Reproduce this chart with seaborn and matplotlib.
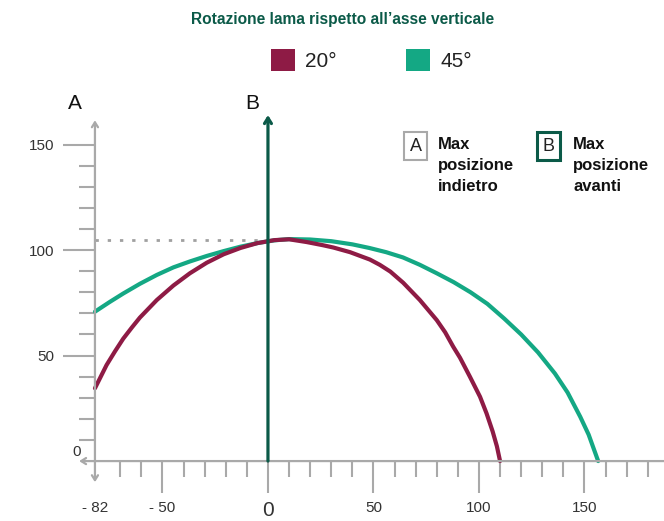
import matplotlib
matplotlib.use("Agg")
import matplotlib.pyplot as plt
import seaborn as sns
import pandas as pd
from matplotlib.patches import Patch

# --- data ---
x_20 = [-82, -79, -76.5, -72.5, -68.6, -64.5, -60.7, -52.7, -44.8, -37, -29, -21, -13, -5,
        3, 10, 18.3, 26, 31, 38.9, 48.3, 53, 58, 64.1, 72, 80, 84, 87.8, 91, 95.7,
        100.5, 103.6, 106.5, 108.5, 110]
y_20 = [34.5, 40.5, 45.5, 52, 58, 63.3, 68, 76.3, 83.2, 89, 94, 98, 101, 103.3,
        104.7, 105.1, 103.8, 102.3, 101.2, 99, 95.5, 93, 89.8, 84.5, 76.3, 66.8, 61, 54.2, 49, 40,
        30.5, 22.6, 14, 7, 0]
x_45 = [-82, -75, -68.6, -60.7, -52.7, -44.8, -37, -29, -21, -13, -5, 3, 10, 20, 30, 40,
        48, 56, 64, 72, 80, 88, 96, 104, 112, 120, 128, 136, 142, 148, 152, 156.5]
y_45 = [70.8, 75.4, 79.4, 84, 88.2, 91.8, 94.6, 97.2, 99.5, 101.6, 103.3, 104.6, 105.2, 105, 104.2, 102.7,
        101, 99, 96.5, 93, 89, 84.8, 80, 74.5, 67.5, 60, 51.5, 41.5, 32.5, 21, 12.5, 0]
series = ["20°", "45°"]
colors = ["#8E1B45", "#14A884"]

x_major = [-82, -50, 0, 50, 100, 150]
x_labels = ["- 82", "- 50", "0", "50", "100", "150"]
x_minor = [-70, -60, -40, -30, -20, -10, 10, 20, 30, 40, 60, 70, 80, 90,
           110, 120, 130, 140, 160, 170, 180]
y_major = [50, 100, 150]
y_minor = [10, 20, 30, 40, 60, 70, 80, 90, 110, 120, 130, 140]
max_height = 105
b_top = 164

df = pd.concat([
    pd.DataFrame({"x": x_20, "y": y_20, "rotazione": series[0]}),
    pd.DataFrame({"x": x_45, "y": y_45, "rotazione": series[1]}),
])

sns.set_style("white")
plt.rcParams["font.family"] = ["Liberation Sans", "DejaVu Sans"]

GRAY = "#A9A9A9"
DARK = "#0B5A48"

fig = plt.figure(figsize=(6.64, 5.21), dpi=100)
ax = fig.add_axes([0, 0, 1, 1])
ax.set_xlim(-127, 187.7)
ax.set_ylim(-28.4, 218.5)

# curves (45° below, 20° on top)
sns.lineplot(data=df, x="x", y="y", hue="rotazione", hue_order=series[::-1],
             palette=dict(zip(series, colors)), sort=False, lw=3,
             legend=False, ax=ax, zorder=3)
for line in ax.lines:
    line.set_solid_joinstyle("round")
ax.set(xlabel="", ylabel="")

# dotted reference at max height
ax.plot([-82, 0], [max_height, max_height], color="#A0A0A0", lw=2,
        linestyle=(0, (1.2, 3.2)), zorder=2)

# axes drawn as arrows
for s in ax.spines.values():
    s.set_visible(False)
ax.spines["left"].set_position(("data", -82))
ax.spines["bottom"].set_position(("data", 0))
ax.annotate("", xy=(-82, 161.5), xytext=(-82, -10),
            arrowprops=dict(arrowstyle="<->,head_length=0.35,head_width=0.22",
                            color=GRAY, lw=1.6, shrinkA=0, shrinkB=0))
ax.annotate("", xy=(-89.5, 0), xytext=(190, 0),
            arrowprops=dict(arrowstyle="->,head_length=0.35,head_width=0.22",
                            color=GRAY, lw=1.6, shrinkA=0, shrinkB=0))
# B arrow
ax.annotate("", xy=(0, b_top), xytext=(0, 0),
            arrowprops=dict(arrowstyle="->,head_length=0.4,head_width=0.25",
                            color=DARK, lw=2.3, shrinkA=0, shrinkB=0), zorder=4)

# ticks
ax.set_xticks(x_major, x_labels)
ax.set_xticks(x_minor, minor=True)
ax.set_yticks(y_major, [str(v) for v in y_major])
ax.set_yticks(y_minor, minor=True)
ax.tick_params(axis="both", which="major", length=23, width=1.5, color=GRAY,
               labelsize=11, labelcolor="#333333", pad=6)
ax.tick_params(axis="both", which="minor", length=11.5, width=1.5, color=GRAY)
ax.tick_params(axis="x", which="both", bottom=True, direction="out")
ax.tick_params(axis="y", which="both", left=True, direction="out")
ax.xaxis.get_major_ticks()[0].tick1line.set_visible(False)
ax.get_xticklabels()[2].set_fontsize(15)
ax.text(-88.5, 4.3, "0", ha="right", va="center", fontsize=11, color="#333333")

# A / B labels
ax.text(-91.5, 169.5, "A", ha="center", va="center", fontsize=15, color="#111111")
ax.text(-7.6, 169.5, "B", ha="center", va="center", fontsize=15, color="#111111")

# title
fig.text(0.516, 0.962, "Rotazione lama rispetto all\u2019asse verticale",
         ha="center", va="center", fontsize=11.2, fontweight="bold", color=DARK)

# legend
handles = [Patch(facecolor=c, edgecolor="none") for c in colors]
leg = fig.legend(handles, series, loc="center left", bbox_to_anchor=(0.408, 0.885),
                 ncol=2, frameon=False, fontsize=15, borderpad=0, borderaxespad=0,
                 handlelength=1.15, handleheight=1.25, handletextpad=0.5,
                 columnspacing=3.3)
for t in leg.get_texts():
    t.set_color("#222222")

# A / B boxes
fig.text(0.626, 0.719, "A", ha="center", va="center", fontsize=13, color="#222222",
         bbox=dict(boxstyle="square,pad=0.3", fc="white", ec=GRAY, lw=1.5))
fig.text(0.826, 0.719, "B", ha="center", va="center", fontsize=13, color="#222222",
         bbox=dict(boxstyle="square,pad=0.3", fc="white", ec=DARK, lw=2.2))
fig.text(0.66, 0.738, "Max\nposizione\nindietro", ha="left", va="top",
         fontsize=12, fontweight="bold", linespacing=1.5, color="#111111")
fig.text(0.863, 0.738, "Max\nposizione\navanti", ha="left", va="top",
         fontsize=12, fontweight="bold", linespacing=1.5, color="#111111")

fig.savefig("out.png", dpi=100)
